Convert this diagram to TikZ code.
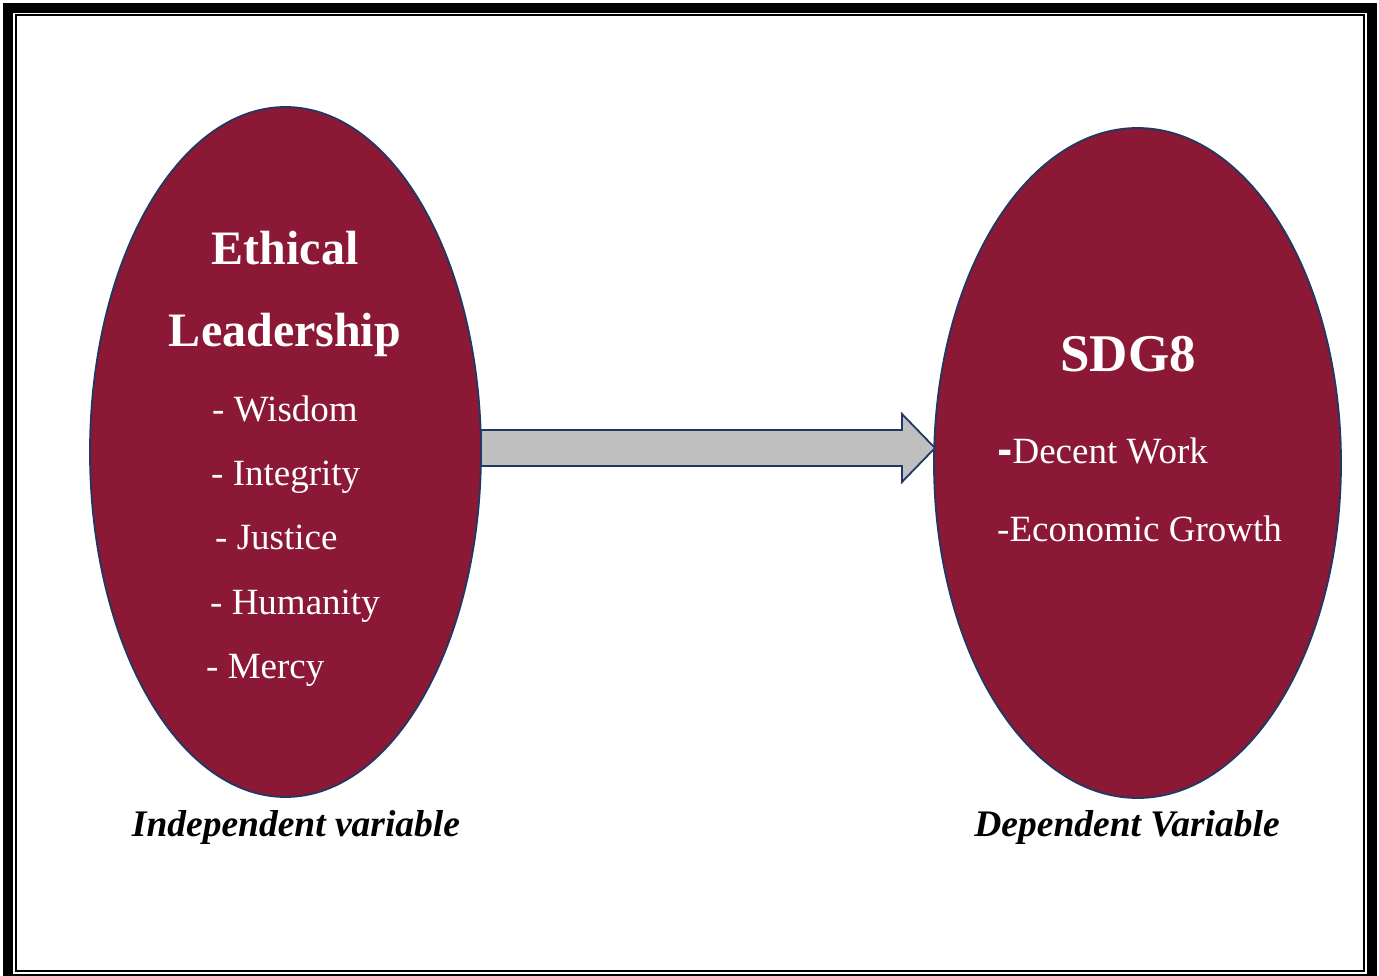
\documentclass[tikz,border=0pt]{standalone}
\usepackage{fontspec}
\setmainfont{Liberation Serif}
\usetikzlibrary{calc,shapes.geometric}
\definecolor{maroon}{RGB}{139,24,53}
\definecolor{navy}{RGB}{31,56,100}
\definecolor{arrowgray}{RGB}{191,191,191}
\begin{document}
\begin{tikzpicture}[x=1pt,y=-1pt,
  oval/.style={ellipse, draw=navy, line width=1.8pt, fill=maroon, inner sep=0pt},
  head/.style={text=white, font=\fontsize{48}{52}\selectfont\bfseries, anchor=base},
  item/.style={text=white, font=\fontsize{37}{42}\selectfont, anchor=base west, inner sep=0pt},
  varlabel/.style={font=\fontsize{37.5}{42}\selectfont\bfseries\itshape, anchor=base, inner sep=0pt},
  blockarrow/.style={draw=navy, line width=1.8pt, fill=arrowgray, line join=miter}]
\useasboundingbox (0,0) rectangle (1379,976);
% frame
\draw[line width=10pt] (8,8) rectangle (1371.5,979);
\draw[line width=2pt] (16,15) rectangle (1364,971);
% ellipses
\node[oval, minimum width=391pt, minimum height=690pt] (L) at (285.5,452) {};
\node[oval, minimum width=407pt, minimum height=670pt] (R) at (1137.5,463) {};
% arrow
\coordinate (as) at (481,448);
\coordinate (at) at (935,448);
\draw[blockarrow] ($(as)+(0,-18)$) -- ($(at)+(-33,-18)$) -- ($(at)+(-33,-34)$) -- (at)
  -- ($(at)+(-33,34)$) -- ($(at)+(-33,18)$) -- ($(as)+(0,18)$) -- cycle;
% left texts
\node[head] (t1) at (285,265) {Ethical};
\node[head] (t2) at (285,346) {Leadership};
\node[item] (i1) at (212,421) {- Wisdom};
\node[item] (i2) at (211,485) {- Integrity};
\node[item] (i3) at (215,549) {- Justice};
\node[item] (i4) at (210,614) {- Humanity};
\node[item] (i5) at (206,678) {- Mercy};
% right texts
\node[head, font=\fontsize{53}{58}\selectfont\bfseries] (s1) at (1128,371) {SDG8};
\node[item] (d1) at (997,463) {{\fontspec{DejaVu Sans}\bfseries -}Decent Work};
\node[item] (d2) at (997,541) {-Economic Growth};
% labels
\node[varlabel] (v1) at (296,836) {Independent variable};
\node[varlabel] (v2) at (1127,836) {Dependent Variable};
\end{tikzpicture}
\end{document}
